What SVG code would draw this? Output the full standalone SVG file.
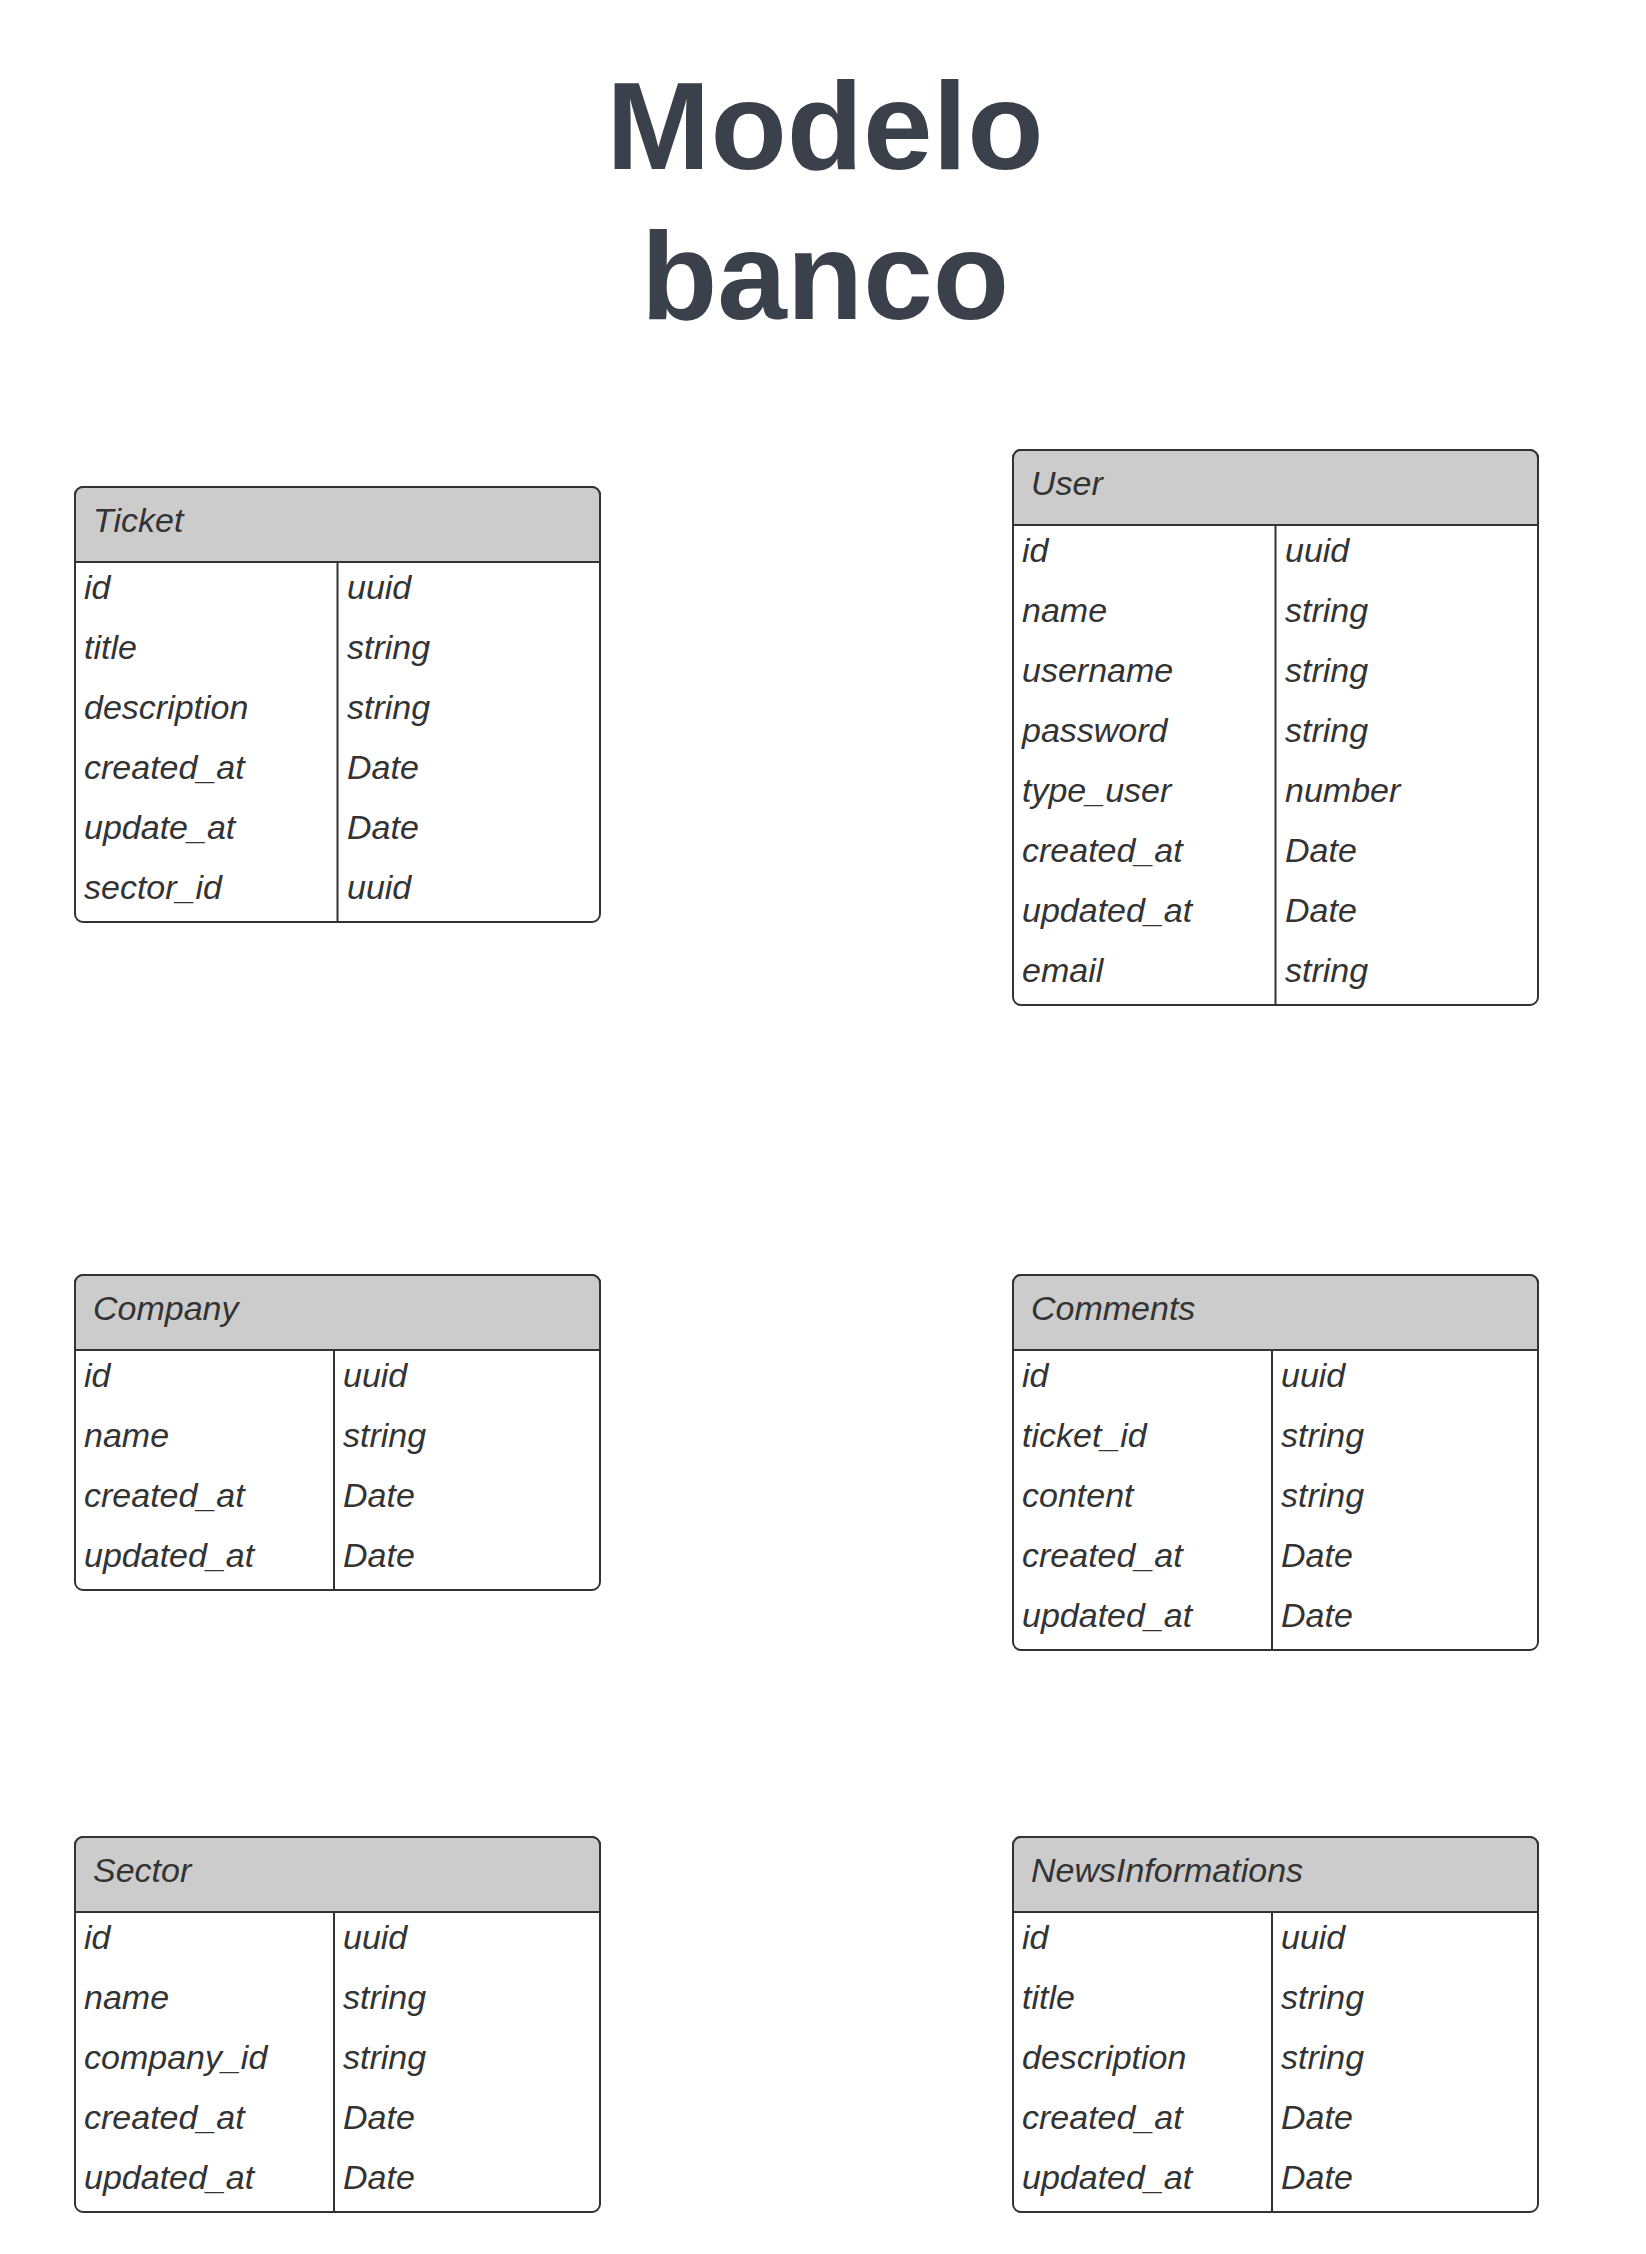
<svg xmlns="http://www.w3.org/2000/svg" width="1646" height="2254" viewBox="0 0 1646 2254">
<style>
.title{font-family:"Liberation Sans",Arial,sans-serif;font-weight:bold;font-size:125px;fill:#3a414a;text-anchor:middle}
.box{fill:#ffffff;stroke:#333333;stroke-width:2}
.hdr{fill:#cccccc;stroke:#333333;stroke-width:2}
.ln{stroke:#333333;stroke-width:2;fill:none}
.t{font-family:"Liberation Sans",Arial,sans-serif;font-style:italic;font-size:34px;fill:#333333}
</style>
<rect width="1646" height="2254" fill="#ffffff"/>
<g id="title">
<text class="title" x="825" y="169">Modelo</text>
<text class="title" x="825" y="319">banco</text>
</g>
<g id="connectors"></g>

<g id="ticket" transform="translate(75,487)">
<rect class="box" x="0" y="0" width="525" height="435" rx="8"/>
<path class="hdr" d="M0,75 V8 A8,8 0 0 1 8,0 H517 A8,8 0 0 1 525,8 V75 Z"/>
<line class="ln" x1="262.5" y1="75" x2="262.5" y2="435"/>
<text class="t" x="18" y="45">Ticket</text>
<text class="t" x="9" y="112">id</text><text class="t" x="272" y="112">uuid</text>
<text class="t" x="9" y="172">title</text><text class="t" x="272" y="172">string</text>
<text class="t" x="9" y="232">description</text><text class="t" x="272" y="232">string</text>
<text class="t" x="9" y="292">created_at</text><text class="t" x="272" y="292">Date</text>
<text class="t" x="9" y="352">update_at</text><text class="t" x="272" y="352">Date</text>
<text class="t" x="9" y="412">sector_id</text><text class="t" x="272" y="412">uuid</text>
</g>

<g id="user" transform="translate(1013,450)">
<rect class="box" x="0" y="0" width="525" height="555" rx="8"/>
<path class="hdr" d="M0,75 V8 A8,8 0 0 1 8,0 H517 A8,8 0 0 1 525,8 V75 Z"/>
<line class="ln" x1="262.5" y1="75" x2="262.5" y2="555"/>
<text class="t" x="18" y="45">User</text>
<text class="t" x="9" y="112">id</text><text class="t" x="272" y="112">uuid</text>
<text class="t" x="9" y="172">name</text><text class="t" x="272" y="172">string</text>
<text class="t" x="9" y="232">username</text><text class="t" x="272" y="232">string</text>
<text class="t" x="9" y="292">password</text><text class="t" x="272" y="292">string</text>
<text class="t" x="9" y="352">type_user</text><text class="t" x="272" y="352">number</text>
<text class="t" x="9" y="412">created_at</text><text class="t" x="272" y="412">Date</text>
<text class="t" x="9" y="472">updated_at</text><text class="t" x="272" y="472">Date</text>
<text class="t" x="9" y="532">email</text><text class="t" x="272" y="532">string</text>
</g>

<g id="company" transform="translate(75,1275)">
<rect class="box" x="0" y="0" width="525" height="315" rx="8"/>
<path class="hdr" d="M0,75 V8 A8,8 0 0 1 8,0 H517 A8,8 0 0 1 525,8 V75 Z"/>
<line class="ln" x1="259" y1="75" x2="259" y2="315"/>
<text class="t" x="18" y="45">Company</text>
<text class="t" x="9" y="112">id</text><text class="t" x="268" y="112">uuid</text>
<text class="t" x="9" y="172">name</text><text class="t" x="268" y="172">string</text>
<text class="t" x="9" y="232">created_at</text><text class="t" x="268" y="232">Date</text>
<text class="t" x="9" y="292">updated_at</text><text class="t" x="268" y="292">Date</text>
</g>

<g id="comments" transform="translate(1013,1275)">
<rect class="box" x="0" y="0" width="525" height="375" rx="8"/>
<path class="hdr" d="M0,75 V8 A8,8 0 0 1 8,0 H517 A8,8 0 0 1 525,8 V75 Z"/>
<line class="ln" x1="259" y1="75" x2="259" y2="375"/>
<text class="t" x="18" y="45">Comments</text>
<text class="t" x="9" y="112">id</text><text class="t" x="268" y="112">uuid</text>
<text class="t" x="9" y="172">ticket_id</text><text class="t" x="268" y="172">string</text>
<text class="t" x="9" y="232">content</text><text class="t" x="268" y="232">string</text>
<text class="t" x="9" y="292">created_at</text><text class="t" x="268" y="292">Date</text>
<text class="t" x="9" y="352">updated_at</text><text class="t" x="268" y="352">Date</text>
</g>

<g id="sector" transform="translate(75,1837)">
<rect class="box" x="0" y="0" width="525" height="375" rx="8"/>
<path class="hdr" d="M0,75 V8 A8,8 0 0 1 8,0 H517 A8,8 0 0 1 525,8 V75 Z"/>
<line class="ln" x1="259" y1="75" x2="259" y2="375"/>
<text class="t" x="18" y="45">Sector</text>
<text class="t" x="9" y="112">id</text><text class="t" x="268" y="112">uuid</text>
<text class="t" x="9" y="172">name</text><text class="t" x="268" y="172">string</text>
<text class="t" x="9" y="232">company_id</text><text class="t" x="268" y="232">string</text>
<text class="t" x="9" y="292">created_at</text><text class="t" x="268" y="292">Date</text>
<text class="t" x="9" y="352">updated_at</text><text class="t" x="268" y="352">Date</text>
</g>

<g id="newsinformations" transform="translate(1013,1837)">
<rect class="box" x="0" y="0" width="525" height="375" rx="8"/>
<path class="hdr" d="M0,75 V8 A8,8 0 0 1 8,0 H517 A8,8 0 0 1 525,8 V75 Z"/>
<line class="ln" x1="259" y1="75" x2="259" y2="375"/>
<text class="t" x="18" y="45">NewsInformations</text>
<text class="t" x="9" y="112">id</text><text class="t" x="268" y="112">uuid</text>
<text class="t" x="9" y="172">title</text><text class="t" x="268" y="172">string</text>
<text class="t" x="9" y="232">description</text><text class="t" x="268" y="232">string</text>
<text class="t" x="9" y="292">created_at</text><text class="t" x="268" y="292">Date</text>
<text class="t" x="9" y="352">updated_at</text><text class="t" x="268" y="352">Date</text>
</g>
</svg>
